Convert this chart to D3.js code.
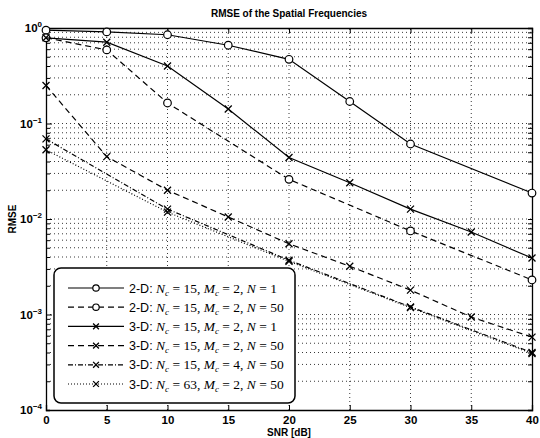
<!DOCTYPE html>
<html>
<head>
<meta charset="utf-8">
<script src="https://cdn.jsdelivr.net/npm/d3@7"></script>
<style>
  body { margin: 0; background: #fff; }
  text { font-family: "Liberation Sans", Arial, sans-serif; }
</style>
</head>
<body>
<div id="chart-area"></div>
<script>
// SNR values per series
var snrAll = [0, 5, 10, 15, 20, 25, 30, 35, 40];
var snr1 = [0, 5, 10, 15, 20, 25, 30, 40];
var snr2 = [0, 5, 10, 20, 30, 40];
var snr56 = [0, 10, 20, 30, 40];

var rmse1 = [0.95, 0.91, 0.85, 0.66, 0.47, 0.17, 0.061, 0.0187];
var rmse2 = [0.79, 0.59, 0.164, 0.026, 0.0075, 0.0023];
var rmse3 = [0.79, 0.71, 0.40, 0.142, 0.044, 0.024, 0.0127, 0.0073, 0.0039];
var rmse4 = [0.25, 0.045, 0.020, 0.0105, 0.0055, 0.0032, 0.0018, 0.00094, 0.00058];
var rmse5 = [0.069, 0.0127, 0.0037, 0.0012, 0.0004];
var rmse6 = [0.053, 0.0118, 0.0036, 0.00118, 0.00039];

var xTicks = [0, 5, 10, 15, 20, 25, 30, 35, 40];
var yDecades = [0, -1, -2, -3, -4];

var width = 540, height = 438;
var margin = { left: 46, right: 8, top: 28, bottom: 28 };

var svg = d3.select("#chart-area").append("svg")
    .attr("width", width)
    .attr("height", height);

var x = d3.scaleLinear().domain([0, 40]).range([margin.left, width - margin.right]);
var y = d3.scaleLog().domain([1e-4, 1]).range([height - margin.bottom, margin.top]);

var x0 = x.range()[0], x1 = x.range()[1];
var y0 = y.range()[0], y1 = y.range()[1];

// grid (dotted, matlab style)
var minorVals = [];
yDecades.slice(0, 4).forEach(function(e){
    for (var k = 1; k < 10; k++) minorVals.push(k * Math.pow(10, e - 1));
});
var grid = svg.append("g").attr("class", "grid")
    .attr("stroke", "#222")
    .attr("stroke-width", 0.9)
    .attr("stroke-dasharray", "1,3");

grid.selectAll("line.gy").data(minorVals.filter(function(v){ return v > 1e-4 && v < 1; }))
  .enter().append("line")
    .attr("x1", x0).attr("x2", x1)
    .attr("y1", function(d){ return y(d); })
    .attr("y2", function(d){ return y(d); });

grid.selectAll("line.gx").data(xTicks.slice(1, -1))
  .enter().append("line")
    .attr("y1", y0).attr("y2", y1)
    .attr("x1", function(d){ return x(d); })
    .attr("x2", function(d){ return x(d); });

// axes box with ticks
var axisB = d3.axisBottom(x).tickValues(xTicks).tickSize(-5).tickFormat(d3.format("d"));
var axisT = d3.axisTop(x).tickValues(xTicks).tickSize(-5).tickFormat("");
var axisL = d3.axisLeft(y).tickValues(minorVals.filter(function(v){ return v >= 1e-4; }).concat([1]))
    .tickSize(-4).tickFormat("");
var axisR = d3.axisRight(y).tickValues(minorVals.filter(function(v){ return v >= 1e-4; }).concat([1]))
    .tickSize(-4).tickFormat("");

var gB = svg.append("g").attr("transform", "translate(0," + y0 + ")").call(axisB);
svg.append("g").attr("transform", "translate(0," + y1 + ")").call(axisT);
var gL = svg.append("g").attr("transform", "translate(" + x0 + ",0)").call(axisL);
svg.append("g").attr("transform", "translate(" + x1 + ",0)").call(axisR);

svg.selectAll(".domain").attr("stroke", "#000").attr("stroke-width", 1.3);
svg.selectAll(".tick line").attr("stroke", "#000");
gL.selectAll(".tick line").attr("x2", function(d){
    return Math.abs(Math.log10(d) - Math.round(Math.log10(d))) < 1e-6 ? 6 : 4;
});

gB.selectAll(".tick text")
    .attr("dy", "0.95em")
    .attr("font-size", "11.5px")
    .attr("font-weight", "bold")
    .attr("fill", "#000");

// decade labels 10^k
var yl = svg.append("g").attr("class", "ylabels");
yDecades.forEach(function(e){
    var t = yl.append("text")
        .attr("x", x0 - 4)
        .attr("y", y(Math.pow(10, e)) + 4)
        .attr("text-anchor", "end")
        .attr("font-size", "11.5px")
        .attr("font-weight", "bold");
    t.append("tspan").text("10");
    t.append("tspan").attr("dy", -5).attr("font-size", "8px").text(e === 0 ? "0" : "\u2212" + (-e));
});

// title and axis labels
svg.append("text")
    .attr("x", (x0 + x1) / 2)
    .attr("y", 17)
    .attr("text-anchor", "middle")
    .attr("font-size", "10px")
    .attr("font-weight", "bold")
    .text("RMSE of the Spatial Frequencies");

svg.append("text")
    .attr("x", (x0 + x1) / 2)
    .attr("y", 436)
    .attr("text-anchor", "middle")
    .attr("font-size", "10px")
    .attr("font-weight", "bold")
    .text("SNR [dB]");

svg.append("text")
    .attr("transform", "translate(16," + ((y0 + y1) / 2) + ") rotate(-90)")
    .attr("text-anchor", "middle")
    .attr("font-size", "10px")
    .attr("font-weight", "bold")
    .text("RMSE");

// series
var series = [
    { xs: snr1, ys: rmse1, dash: null, mark: "o", nc: 15, mc: 2, n: 1, dim: "2-D" },
    { xs: snr2, ys: rmse2, dash: "6,4", mark: "o", nc: 15, mc: 2, n: 50, dim: "2-D" },
    { xs: snrAll, ys: rmse3, dash: null, mark: "x", nc: 15, mc: 2, n: 1, dim: "3-D" },
    { xs: snrAll, ys: rmse4, dash: "6,4", mark: "x", nc: 15, mc: 2, n: 50, dim: "3-D" },
    { xs: snr56, ys: rmse5, dash: "5,2,1,2", mark: "x", nc: 15, mc: 4, n: 50, dim: "3-D" },
    { xs: snr56, ys: rmse6, dash: "1,2", mark: "x", nc: 63, mc: 2, n: 50, dim: "3-D" }
];

var line = d3.line()
    .x(function(d){ return x(d[0]); })
    .y(function(d){ return y(d[1]); });

function drawMarker(g, type, cx, cy, r) {
    if (type === "o") {
        g.append("circle")
            .attr("cx", cx).attr("cy", cy).attr("r", r)
            .attr("fill", "#fff").attr("stroke", "#000").attr("stroke-width", 1.2);
    } else {
        var s = r - 0.3;
        g.append("path")
            .attr("d", "M" + (cx - s) + "," + (cy - s) + "L" + (cx + s) + "," + (cy + s) +
                "M" + (cx - s) + "," + (cy + s) + "L" + (cx + s) + "," + (cy - s))
            .attr("stroke", "#000").attr("stroke-width", 1.3);
    }
}

var plot = svg.append("g").attr("class", "plot");
series.forEach(function(s){
    var pts = s.xs.map(function(v, i){ return [v, s.ys[i]]; });
    plot.append("path")
        .attr("d", line(pts))
        .attr("fill", "none")
        .attr("stroke", "#000")
        .attr("stroke-width", 1.2)
        .attr("stroke-dasharray", s.dash);
    pts.forEach(function(p){ drawMarker(plot, s.mark, x(p[0]), y(p[1]), 3.8); });
});

// legend
var legend = svg.append("g").attr("class", "legend");
legend.append("rect")
    .attr("x", 54).attr("y", 268)
    .attr("width", 241).attr("height", 135)
    .attr("rx", 7).attr("ry", 7)
    .attr("fill", "#fff")
    .attr("stroke", "#000")
    .attr("stroke-width", 1.5);

var serif = "'Liberation Serif', 'DejaVu Serif', serif";
series.forEach(function(s, i){
    var ry = 288 + i * 19.2;
    var row = legend.append("g");
    row.append("line")
        .attr("x1", 68).attr("x2", 124)
        .attr("y1", ry).attr("y2", ry)
        .attr("stroke", "#000")
        .attr("stroke-width", 1.2)
        .attr("stroke-dasharray", s.dash);
    drawMarker(row, s.mark, 96, ry, 3.2);

    var t = row.append("text")
        .attr("x", 129)
        .attr("y", ry + 4.5)
        .attr("font-size", "13.5px");
    t.append("tspan").attr("font-size", "12.5px").text(s.dim + ": ");
    t.append("tspan").attr("font-family", serif).attr("font-style", "italic").text("N");
    t.append("tspan").attr("font-family", serif).attr("font-style", "italic")
        .attr("font-size", "9px").attr("dy", 3).text("c");
    t.append("tspan").attr("font-family", serif).attr("dy", -3).text(" = " + s.nc + ", ");
    t.append("tspan").attr("font-family", serif).attr("font-style", "italic").text("M");
    t.append("tspan").attr("font-family", serif).attr("font-style", "italic")
        .attr("font-size", "9px").attr("dy", 3).text("c");
    t.append("tspan").attr("font-family", serif).attr("dy", -3).text(" = " + s.mc + ", ");
    t.append("tspan").attr("font-family", serif).attr("font-style", "italic").text("N");
    t.append("tspan").attr("font-family", serif).text(" = " + s.n);
});
</script>
</body>
</html>
